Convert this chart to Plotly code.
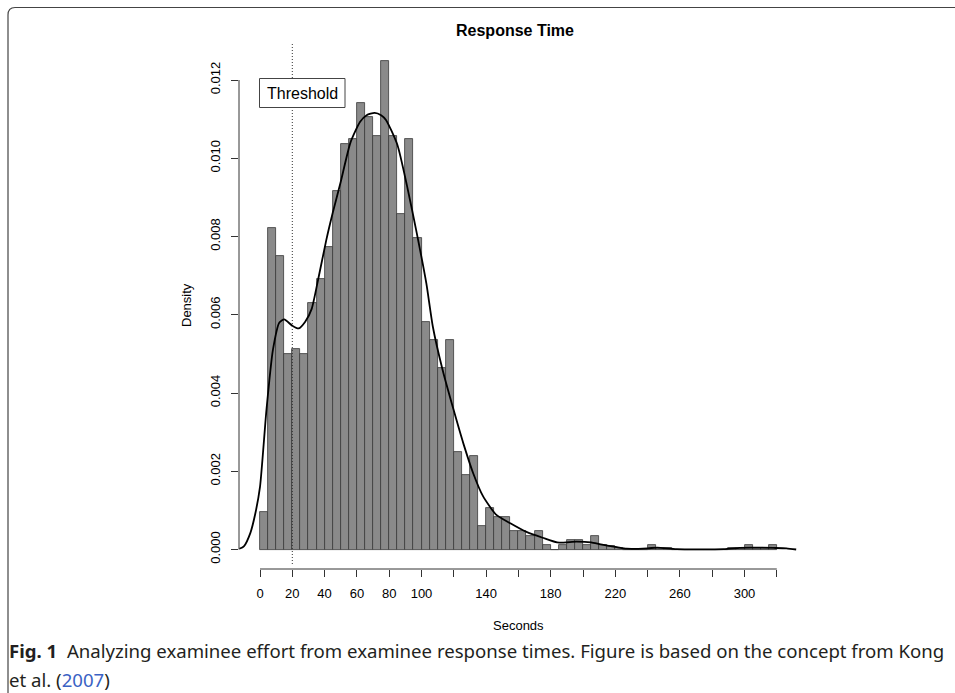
import plotly.graph_objects as go

# ---------------- data ----------------
bin_start = list(range(0, 320, 5))
bin_density = [
    0.00096, 0.00821, 0.00750, 0.00500, 0.00512, 0.00500, 0.00631, 0.00691,
    0.00772, 0.00916, 0.01036, 0.01049, 0.01142, 0.01106, 0.01057, 0.01249,
    0.01057, 0.00858, 0.01049, 0.00797, 0.00582, 0.00535, 0.00463, 0.00535,
    0.00248, 0.00190, 0.00239, 0.00060, 0.00105, 0.00084, 0.00082, 0.00047,
    0.00047, 0.00035, 0.00047, 0.00011, 0.00000, 0.00011, 0.00024, 0.00024,
    0.00011, 0.00035, 0.00011, 0.00008, 0.00004, 0.00000, 0.00000, 0.00000,
    0.00011, 0.00004, 0.00004, 0.00000, 0.00000, 0.00000, 0.00000, 0.00000,
    0.00000, 0.00000, 0.00004, 0.00004, 0.00011, 0.00004, 0.00004, 0.00011,
]

kde_x = [-12.8, -10, -6, -3, 0, 4, 8, 12, 15, 20, 24, 28, 32, 36, 41, 45, 50,
         56, 62, 66, 71, 75, 78, 85, 91, 97, 103, 107, 113, 120, 126, 132, 138,
         146, 155, 165, 175, 184, 196, 205, 211, 221, 227, 240, 246, 258, 287,
         297, 305, 318, 326, 332]
kde_y = [0.00002, 0.00008, 0.00042, 0.00090, 0.00160, 0.00357, 0.00510,
         0.00580, 0.00588, 0.00572, 0.00565, 0.00582, 0.00615, 0.00690,
         0.00790, 0.00860, 0.00940, 0.01040, 0.01093, 0.01110, 0.01116,
         0.01110, 0.01098, 0.01035, 0.00930, 0.00810, 0.00680, 0.00570,
         0.00460, 0.00355, 0.00270, 0.00195, 0.00137, 0.00090, 0.00067,
         0.00045, 0.00030, 0.00018, 0.00020, 0.00018, 0.00013, 0.00006,
         0.00002, 0.00003, 0.00005, 0.00001, 0.00001, 0.00004, 0.00005,
         0.00004, 0.00003, 0.00000]

x_tick_vals = list(range(0, 321, 20))
x_tick_text = ["0", "20", "40", "60", "80", "100", "", "140", "", "180", "",
               "220", "", "260", "", "300", ""]
y_tick_vals = [0.000, 0.002, 0.004, 0.006, 0.008, 0.010, 0.012]
y_tick_text = ["0.000", "0.002", "0.004", "0.006", "0.008", "0.010", "0.012"]

threshold = 20
title_text = "Response Time"
x_title = "Seconds"
y_title = "Density"
legend_text = "Threshold"

# ---------------- layout geometry (pixels) ----------------
W, H = 955, 693
L, R, T, B = 239, 154, 41, 124
PW, PH = W - L - R, H - T - B


def px(xp):
    return (xp - L) / PW


def py(yp):
    return (H - B - yp) / PH


FONT = "Liberation Sans, Arial, sans-serif"
CAP_FONT = "Noto Sans, sans-serif"

fig = go.Figure()
fig.add_trace(go.Bar(
    x=bin_start, y=bin_density, width=5, offset=0,
    marker=dict(color="#8a8a8a", line=dict(color="#3a3a3a", width=0.8)),
    showlegend=False, hoverinfo="skip",
))
fig.add_trace(go.Scatter(
    x=kde_x, y=kde_y, mode="lines",
    line=dict(color="black", width=1.8, shape="spline", smoothing=0.6),
    showlegend=False, hoverinfo="skip",
))

shapes = [
    dict(type="line", xref="x", yref="paper", x0=0, x1=320, y0=0, y1=0,
         line=dict(color="#333333", width=1)),
    dict(type="line", xref="paper", yref="y", x0=0, x1=0, y0=0, y1=0.012,
         line=dict(color="#333333", width=1)),
    dict(type="line", xref="x", yref="paper", x0=threshold, x1=threshold,
         y0=py(564), y1=py(43), line=dict(color="#333333", width=1, dash="1px,2px"),
         layer="above"),
    dict(type="rect", xref="paper", yref="paper",
         x0=px(259.5), x1=px(345), y0=py(107.5), y1=py(78.5),
         fillcolor="white", line=dict(color="#444444", width=1), layer="above"),
    dict(type="path", xref="paper", yref="paper",
         path=f"M {px(8)},{py(700)} L {px(8)},{py(15)} Q {px(8)},{py(7.5)} {px(15)},{py(7.5)} L {px(960)},{py(7.5)}",
         line=dict(color="#444444", width=1.2), layer="above"),
]

annotations = [
    dict(text=f"<b>{title_text}</b>", xref="paper", yref="paper",
         x=px(515), y=py(31), showarrow=False, xanchor="center", yanchor="middle",
         font=dict(family=FONT, size=16, color="black")),
    dict(text=legend_text, xref="paper", yref="paper",
         x=px(302), y=py(93), showarrow=False, xanchor="center", yanchor="middle",
         font=dict(family=FONT, size=16, color="black")),
    dict(text="<b>Fig. 1</b>  Analyzing examinee effort from examinee response times. Figure is based on the concept from Kong",
         xref="paper", yref="paper", x=px(7), y=py(650), showarrow=False,
         xanchor="left", yanchor="middle",
         font=dict(family=CAP_FONT, size=18.6, color="#231f20")),
    dict(text="et al. (<span style='color:#3a62c4'>2007</span>)",
         xref="paper", yref="paper", x=px(7), y=py(679), showarrow=False,
         xanchor="left", yanchor="middle",
         font=dict(family=CAP_FONT, size=18.6, color="#231f20")),
    dict(text=x_title, xref="paper", yref="paper", x=px(518), y=py(625),
         showarrow=False, xanchor="center", yanchor="middle",
         font=dict(family=FONT, size=13, color="black")),
    dict(text=y_title, xref="paper", yref="paper", x=px(186), y=py(305),
         showarrow=False, xanchor="center", yanchor="middle", textangle=-90,
         font=dict(family=FONT, size=13, color="black")),
]

fig.update_layout(
    width=W, height=H,
    margin=dict(l=L, r=R, t=T, b=B, pad=0),
    paper_bgcolor="white", plot_bgcolor="white",
    shapes=shapes, annotations=annotations,
    xaxis=dict(range=[(L - 260) / 1.615, (W - R - 260) / 1.615],
               showgrid=False, zeroline=False, showline=False,
               tickmode="array", tickvals=x_tick_vals, ticktext=x_tick_text,
               ticks="outside", ticklen=7, tickcolor="#333333", tickwidth=1,
               ticklabelstandoff=5,
               tickfont=dict(family=FONT, size=13, color="black")),
    yaxis=dict(range=[-(H - B - 549.5) / 39125, (549.5 - T) / 39125],
               showgrid=False, zeroline=False, showline=False,
               tickmode="array", tickvals=y_tick_vals, ticktext=y_tick_text,
               ticks="outside", ticklen=7, tickcolor="#333333", tickwidth=1,
               tickangle=-90, ticklabelstandoff=6,
               tickfont=dict(family=FONT, size=13, color="black")),
    bargap=0,
)

fig.write_html("out.html")
